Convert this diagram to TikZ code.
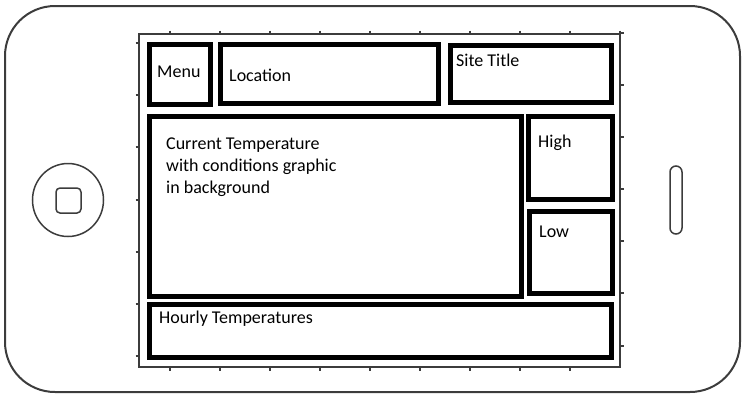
\documentclass[tikz,border=0pt]{standalone}
\usepackage{fontspec}
\setmainfont{Carlito}
\begin{document}
\begin{tikzpicture}[x=1pt,y=-1pt,
  frame/.style={draw=edge,line width=2pt},
  tick/.style={draw=edge,line width=2.5pt},
  box/.style={draw=black,line width=5pt},
  lbl/.style={anchor=base west,inner sep=0pt,font=\fontsize{18}{22}\selectfont,align=left}]
\definecolor{edge}{HTML}{3C3C3C}
\useasboundingbox (0,0) rectangle (744,400);
% phone body
\draw[frame,rounded corners=50pt] (5,6) rectangle (740,392);
% home button and speaker slot
\draw[draw=edge,line width=1.5pt] (68,200) ellipse[x radius=35.5,y radius=36.5];
\draw[draw=edge,line width=1.5pt,rounded corners=4pt] (56,188) rectangle (81,213);
\draw[draw=edge,line width=1.5pt,rounded corners=6pt] (670,166) rectangle (682,234);
% screen with ruler ticks
\draw[frame] (139,34) rectangle (620,367);
\foreach \x in {170,220,...,570} {
  \draw[tick] (\x,30.5) -- (\x,34);
  \draw[tick] (\x,367) -- (\x,370.5);
}
\draw[tick] (620,30.5) -- (620,34);
\foreach \y in {43,95,147,200,252,304,356}
  \draw[tick] (135.5,\y) -- (139,\y);
\foreach \y in {33,85,137,189,241,293,346}
  \draw[tick] (620,\y) -- (623.5,\y);
% layout regions
\draw[box] (149.5,44.5) rectangle (210.5,104.5);
\draw[box] (220.5,44.5) rectangle (438.5,103.5);
\draw[box] (450.5,45.5) rectangle (611.5,102.5);
\draw[box] (149.5,116.5) rectangle (521.5,296.5);
\draw[box] (528.5,116.5) rectangle (612.5,199.5);
\draw[box] (529.5,211.5) rectangle (612.5,293.5);
\draw[box] (149.5,304.5) rectangle (611.5,357.5);
% region labels (the three-line label sits on its last baseline)
\node[lbl] (menu) at (157,77) {Menu};
\node[lbl] (location) at (229,81) {Location};
\node[lbl] (site) at (456,66) {Site Title};
\node[lbl] (current) at (166,193) {Current Temperature\\with conditions graphic\\in background};
\node[lbl] (high) at (538,147) {High};
\node[lbl] (low) at (539,237) {Low};
\node[lbl] (hourly) at (159,323) {Hourly Temperatures};
\end{tikzpicture}
\end{document}
